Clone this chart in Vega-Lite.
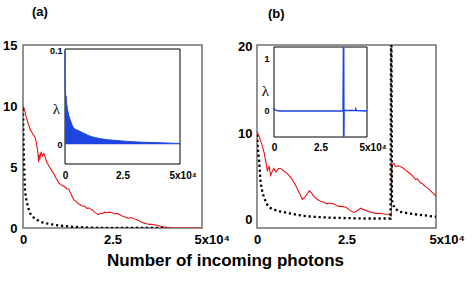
{
  "$schema": "https://vega.github.io/schema/vega-lite/v6.json",
  "padding": {"left": 1, "top": 5, "right": 2, "bottom": 2},
  "background": "white",
  "config": {
    "view": {"stroke": "#707070", "strokeWidth": 1.5},
    "axis": {"labelFont": "Liberation Sans", "labelFontWeight": "bold", "labelColor": "black", "grid": false},
    "title": {"font": "Liberation Sans", "fontWeight": "bold", "color": "black"}
  },
  "title": {"text": "Number of incoming photons", "orient": "bottom", "anchor": "middle", "fontSize": 17, "offset": 6, "dx": -8},
  "spacing": 5,
  "datasets": {
    "redA": [
      {"x": 0, "v": 10.0}, {"x": 300, "v": 9.8}, {"x": 600, "v": 9.5}, {"x": 900, "v": 9.1}, {"x": 1200, "v": 8.8},
      {"x": 1500, "v": 8.5}, {"x": 1800, "v": 8.3}, {"x": 2100, "v": 8.0}, {"x": 2400, "v": 7.9}, {"x": 2700, "v": 7.7},
      {"x": 3000, "v": 7.6}, {"x": 3400, "v": 7.4}, {"x": 3700, "v": 7.0}, {"x": 4000, "v": 6.5}, {"x": 4200, "v": 6.1},
      {"x": 4350, "v": 5.4}, {"x": 4500, "v": 6.0}, {"x": 4700, "v": 5.6}, {"x": 4900, "v": 6.1}, {"x": 5100, "v": 6.2},
      {"x": 5400, "v": 5.9}, {"x": 5800, "v": 6.1}, {"x": 6200, "v": 5.8}, {"x": 6600, "v": 5.4}, {"x": 7200, "v": 5.1},
      {"x": 7800, "v": 4.8}, {"x": 8500, "v": 4.5}, {"x": 9200, "v": 4.1}, {"x": 10000, "v": 3.7}, {"x": 10800, "v": 3.5},
      {"x": 11600, "v": 3.4}, {"x": 12300, "v": 3.2}, {"x": 12800, "v": 3.2}, {"x": 13200, "v": 2.9}, {"x": 13700, "v": 2.6},
      {"x": 14200, "v": 2.3}, {"x": 14800, "v": 2.2}, {"x": 15400, "v": 2.0}, {"x": 16000, "v": 1.9}, {"x": 16500, "v": 1.8},
      {"x": 17200, "v": 1.8}, {"x": 17800, "v": 1.6}, {"x": 18300, "v": 1.65}, {"x": 18800, "v": 1.55}, {"x": 19300, "v": 1.5},
      {"x": 19900, "v": 1.3}, {"x": 20500, "v": 1.2}, {"x": 21000, "v": 1.1}, {"x": 21600, "v": 1.2}, {"x": 22200, "v": 1.2},
      {"x": 22800, "v": 1.3}, {"x": 23500, "v": 1.25}, {"x": 24200, "v": 1.3}, {"x": 24900, "v": 1.25}, {"x": 25600, "v": 1.15},
      {"x": 26300, "v": 1.2}, {"x": 26800, "v": 1.15}, {"x": 27500, "v": 1.0}, {"x": 28200, "v": 0.95}, {"x": 28900, "v": 0.85},
      {"x": 29600, "v": 0.8}, {"x": 30300, "v": 0.85}, {"x": 31000, "v": 0.75}, {"x": 31700, "v": 0.7}, {"x": 32400, "v": 0.6},
      {"x": 33100, "v": 0.5}, {"x": 33800, "v": 0.4}, {"x": 34500, "v": 0.35}, {"x": 35300, "v": 0.3}, {"x": 36100, "v": 0.3},
      {"x": 36900, "v": 0.25}, {"x": 37700, "v": 0.2}, {"x": 38500, "v": 0.15}, {"x": 39300, "v": 0.1}, {"x": 40200, "v": 0.05},
      {"x": 41000, "v": 0.02}, {"x": 42000, "v": 0}, {"x": 50000, "v": 0}
    ],
    "blackA": [
      {"x": 0, "v": 9.8}, {"x": 100, "v": 8.0}, {"x": 200, "v": 6.5}, {"x": 300, "v": 5.4}, {"x": 400, "v": 4.4},
      {"x": 500, "v": 3.6}, {"x": 600, "v": 3.0}, {"x": 800, "v": 2.5}, {"x": 1100, "v": 2.1}, {"x": 1500, "v": 1.6},
      {"x": 2000, "v": 1.2}, {"x": 2500, "v": 1.0}, {"x": 3000, "v": 0.85}, {"x": 4000, "v": 0.65}, {"x": 5000, "v": 0.5},
      {"x": 6000, "v": 0.42}, {"x": 7000, "v": 0.35}, {"x": 8000, "v": 0.3}, {"x": 10000, "v": 0.2}, {"x": 12000, "v": 0.15},
      {"x": 14000, "v": 0.1}, {"x": 17000, "v": 0.05}, {"x": 20000, "v": 0.02}, {"x": 23000, "v": 0}, {"x": 40000, "v": 0}
    ],
    "blueA": [
      {"x": 0, "v": 0.1}, {"x": 60, "v": 0.06}, {"x": 150, "v": 0.055}, {"x": 300, "v": 0.05}, {"x": 450, "v": 0.052},
      {"x": 600, "v": 0.045}, {"x": 800, "v": 0.042}, {"x": 1000, "v": 0.038}, {"x": 1200, "v": 0.036}, {"x": 1400, "v": 0.034},
      {"x": 1600, "v": 0.031}, {"x": 1800, "v": 0.03}, {"x": 2000, "v": 0.028}, {"x": 2300, "v": 0.026}, {"x": 2600, "v": 0.024},
      {"x": 3000, "v": 0.021}, {"x": 3400, "v": 0.019}, {"x": 3700, "v": 0.018}, {"x": 4100, "v": 0.017}, {"x": 4500, "v": 0.016},
      {"x": 5000, "v": 0.0155}, {"x": 5500, "v": 0.015}, {"x": 6000, "v": 0.0145}, {"x": 6500, "v": 0.014}, {"x": 7200, "v": 0.013},
      {"x": 8000, "v": 0.012}, {"x": 9000, "v": 0.011}, {"x": 10000, "v": 0.0095}, {"x": 11000, "v": 0.0088}, {"x": 12000, "v": 0.008},
      {"x": 13000, "v": 0.0072}, {"x": 14000, "v": 0.0068}, {"x": 15500, "v": 0.006}, {"x": 17000, "v": 0.0055}, {"x": 18500, "v": 0.005},
      {"x": 20000, "v": 0.0046}, {"x": 22000, "v": 0.0042}, {"x": 24000, "v": 0.0038}, {"x": 26000, "v": 0.0034}, {"x": 28000, "v": 0.003},
      {"x": 30000, "v": 0.0027}, {"x": 32000, "v": 0.0025}, {"x": 34000, "v": 0.0023}, {"x": 36000, "v": 0.0021}, {"x": 38000, "v": 0.002},
      {"x": 40000, "v": 0.0018}, {"x": 42000, "v": 0.0016}, {"x": 44000, "v": 0.0015}, {"x": 46000, "v": 0.0013}, {"x": 48000, "v": 0.0011},
      {"x": 50000, "v": 0.001}
    ],
    "redB": [
      {"x": 0, "v": 10.2}, {"x": 700, "v": 9.5}, {"x": 1400, "v": 8.6}, {"x": 2000, "v": 7.7}, {"x": 2500, "v": 6.6},
      {"x": 2900, "v": 5.6}, {"x": 3400, "v": 6.2}, {"x": 3800, "v": 5.1}, {"x": 4300, "v": 5.6}, {"x": 4700, "v": 5.9},
      {"x": 5300, "v": 5.5}, {"x": 6000, "v": 5.9}, {"x": 6600, "v": 5.9}, {"x": 7500, "v": 5.6}, {"x": 8500, "v": 5.3},
      {"x": 9500, "v": 4.8}, {"x": 10300, "v": 4.3}, {"x": 11200, "v": 3.6}, {"x": 12000, "v": 2.9}, {"x": 12700, "v": 2.3},
      {"x": 13400, "v": 2.6}, {"x": 14100, "v": 3.0}, {"x": 14600, "v": 3.3}, {"x": 15200, "v": 3.1}, {"x": 15800, "v": 2.7},
      {"x": 16900, "v": 2.3}, {"x": 17800, "v": 2.1}, {"x": 18600, "v": 2.0}, {"x": 19500, "v": 1.8}, {"x": 20300, "v": 1.9},
      {"x": 21400, "v": 1.8}, {"x": 22200, "v": 1.6}, {"x": 22800, "v": 1.5}, {"x": 23800, "v": 1.5}, {"x": 24800, "v": 1.4},
      {"x": 25800, "v": 1.1}, {"x": 27000, "v": 0.8}, {"x": 28000, "v": 1.0}, {"x": 29000, "v": 1.3}, {"x": 30000, "v": 1.1},
      {"x": 31300, "v": 0.9}, {"x": 32300, "v": 0.8}, {"x": 33200, "v": 0.7}, {"x": 34500, "v": 0.7}, {"x": 35700, "v": 0.6},
      {"x": 36800, "v": 0.6}, {"x": 37500, "v": 0.4}, {"x": 37700, "v": 6.3}, {"x": 38200, "v": 6.5}, {"x": 38700, "v": 6.1},
      {"x": 39500, "v": 6.2}, {"x": 40600, "v": 6.0}, {"x": 41500, "v": 5.7}, {"x": 42500, "v": 5.4}, {"x": 43500, "v": 5.0},
      {"x": 44300, "v": 4.6}, {"x": 44800, "v": 4.7}, {"x": 45500, "v": 4.3}, {"x": 46300, "v": 4.1}, {"x": 47100, "v": 3.8},
      {"x": 48000, "v": 3.5}, {"x": 49000, "v": 3.1}, {"x": 50000, "v": 2.7}
    ],
    "blackB": [
      {"x": 0, "v": 9.8}, {"x": 200, "v": 8.5}, {"x": 400, "v": 7.5}, {"x": 600, "v": 6.8}, {"x": 800, "v": 5.5},
      {"x": 1000, "v": 4.3}, {"x": 1300, "v": 3.6}, {"x": 1600, "v": 3.0}, {"x": 2000, "v": 2.5}, {"x": 2500, "v": 2.0},
      {"x": 3000, "v": 1.6}, {"x": 3800, "v": 1.3}, {"x": 5000, "v": 1.1}, {"x": 6600, "v": 0.9}, {"x": 8500, "v": 0.75},
      {"x": 10300, "v": 0.6}, {"x": 13000, "v": 0.4}, {"x": 16000, "v": 0.3}, {"x": 20000, "v": 0.2}, {"x": 25000, "v": 0.15},
      {"x": 30000, "v": 0.1}, {"x": 37300, "v": 0.1}, {"x": 37450, "v": 21}, {"x": 37550, "v": 21}, {"x": 37700, "v": 2.2},
      {"x": 38300, "v": 1.4}, {"x": 39600, "v": 0.9}, {"x": 41000, "v": 0.8}, {"x": 42400, "v": 0.7}, {"x": 44000, "v": 0.6},
      {"x": 46000, "v": 0.5}, {"x": 48000, "v": 0.4}, {"x": 50000, "v": 0.3}
    ],
    "blueB": [
      {"x": 0, "v": 0.06}, {"x": 150, "v": 0.03}, {"x": 500, "v": 0.02}, {"x": 1500, "v": 0.01}, {"x": 3000, "v": 0.0},
      {"x": 36800, "v": 0.0}, {"x": 37100, "v": 0.01}, {"x": 37300, "v": 1.23}, {"x": 37400, "v": -0.5}, {"x": 37500, "v": 1.23},
      {"x": 37600, "v": -0.5}, {"x": 37700, "v": 0.02}, {"x": 38500, "v": 0.01}, {"x": 43800, "v": 0.01}, {"x": 44000, "v": 0.04},
      {"x": 44300, "v": 0.01}, {"x": 50000, "v": 0.0}
    ]
  },
  "hconcat": [
    {
      "width": 179,
      "height": 183,
      "title": {"text": "(a)", "anchor": "start", "frame": "group", "dx": 9, "fontSize": 13, "offset": 20},
      "layer": [
        {
          "encoding": {
            "x": {"field": "x", "type": "quantitative", "scale": {"domain": [0, 50000], "nice": false, "zero": false},
              "axis": {"values": [0, 25000, 50000], "labelExpr": "datum.value == 0 ? '0' : datum.value == 25000 ? '2.5' : '5x10⁴'",
                "title": null, "ticks": false, "domain": false, "labelFontSize": 13, "labelPadding": 5, "labelFlush": false,
                "labelAlign": {"condition": {"test": "datum.value == 50000", "value": "left"}, "value": "center"},
                "labelOffset": {"condition": {"test": "datum.value == 50000", "value": -8}, "value": 0}}},
            "y": {"field": "v", "type": "quantitative", "scale": {"domain": [0, 15], "nice": false, "zero": false},
              "axis": {"values": [0, 5, 10, 15], "title": null, "ticks": false, "domain": false, "labelFontSize": 13, "labelPadding": 6}}
          },
          "layer": [
            {"data": {"name": "redA"}, "mark": {"type": "line", "color": "#e8141a", "strokeWidth": 1.1, "clip": true}},
            {"data": {"name": "blackA"}, "mark": {"type": "line", "color": "black", "strokeWidth": 2.3, "strokeDash": [2.2, 2.8], "clip": true}}
          ]
        },
        {
          "encoding": {
            "x": {"field": "x", "type": "quantitative", "scale": {"domain": [0, 50000], "range": [42, 157], "nice": false, "zero": false},
              "axis": {"orient": "bottom", "offset": -64, "values": [0, 25000, 50000],
                "labelExpr": "datum.value == 0 ? '0' : datum.value == 25000 ? '2.5' : '5x10⁴'",
                "title": null, "ticks": false, "domain": false, "labelFontSize": 10, "labelPadding": 6, "labelFlush": false,
                "labelAlign": {"condition": {"test": "datum.value == 50000", "value": "left"}, "value": "center"},
                "labelOffset": {"condition": {"test": "datum.value == 50000", "value": -11}, "value": 0}}},
            "y": {"field": "v", "type": "quantitative", "scale": {"domain": [-0.021, 0.102], "range": [119, 4], "nice": false, "zero": false},
              "axis": {"orient": "left", "offset": -42, "values": [0, 0.1], "labelExpr": "datum.value == 0 ? '0' : '0.1'",
                "ticks": false, "domain": false, "labelFontSize": 9, "labelPadding": 3,
                "title": "λ", "titleAngle": 0, "titleFont": "Liberation Serif", "titleFontWeight": "normal", "titleFontSize": 15,
                "titleX": -9, "titleY": 63, "titleAlign": "center", "titleBaseline": "middle"}}
          },
          "layer": [
            {"data": {"values": [{"x": 0, "x2": 50000, "v": -0.021, "v2": 0.102}]},
              "mark": {"type": "rect", "fill": "white", "stroke": "black", "strokeWidth": 1},
              "encoding": {"x2": {"field": "x2"}, "y2": {"field": "v2"}}},
            {"data": {"name": "blueA"}, "mark": {"type": "area", "color": "#1f45e0", "opacity": 1, "fillOpacity": 1, "line": {"color": "#1f45e0", "strokeWidth": 1}}}
          ]
        }
      ],
      "resolve": {"scale": {"x": "independent", "y": "independent"}, "axis": {"x": "independent", "y": "independent"}}
    },
    {
      "width": 179,
      "height": 183,
      "title": {"text": "(b)", "anchor": "start", "frame": "group", "dx": 11, "fontSize": 13, "offset": 20},
      "layer": [
        {
          "encoding": {
            "x": {"field": "x", "type": "quantitative", "scale": {"domain": [0, 50000], "nice": false, "zero": false},
              "axis": {"values": [0, 25000, 50000], "labelExpr": "datum.value == 0 ? '0' : datum.value == 25000 ? '2.5' : '5x10⁴'",
                "title": null, "ticks": false, "domain": false, "labelFontSize": 13, "labelPadding": 5, "labelFlush": false,
                "labelAlign": {"condition": {"test": "datum.value == 50000", "value": "left"}, "value": "center"},
                "labelOffset": {"condition": {"test": "datum.value == 50000", "value": -7}, "value": 0}}},
            "y": {"field": "v", "type": "quantitative", "scale": {"domain": [-1, 20.2], "nice": false, "zero": false},
              "axis": {"values": [0, 10, 20], "title": null, "ticks": false, "domain": false, "labelFontSize": 13, "labelPadding": 5}}
          },
          "layer": [
            {"data": {"name": "redB"}, "mark": {"type": "line", "color": "#e8141a", "strokeWidth": 1.1, "clip": true}},
            {"data": {"name": "blackB"}, "mark": {"type": "line", "color": "black", "strokeWidth": 2.3, "strokeDash": [2.2, 2.8], "clip": true}}
          ]
        },
        {
          "encoding": {
            "x": {"field": "x", "type": "quantitative", "scale": {"domain": [0, 50000], "range": [17, 110], "nice": false, "zero": false},
              "axis": {"orient": "bottom", "offset": -91, "values": [0, 25000, 50000],
                "labelExpr": "datum.value == 0 ? '0' : datum.value == 25000 ? '2.5' : '5x10⁴'",
                "title": null, "ticks": false, "domain": false, "labelFontSize": 10, "labelPadding": 5, "labelFlush": false,
                "labelAlign": {"condition": {"test": "datum.value == 50000", "value": "left"}, "value": "center"},
                "labelOffset": {"condition": {"test": "datum.value == 50000", "value": -8}, "value": 0}}},
            "y": {"field": "v", "type": "quantitative", "scale": {"domain": [-0.5, 1.23], "range": [92, 2], "nice": false, "zero": false},
              "axis": {"orient": "left", "offset": -17, "values": [0, 1], "ticks": false, "domain": false, "labelFontSize": 9, "labelPadding": 5,
                "title": "λ", "titleAngle": 0, "titleFont": "Liberation Serif", "titleFontWeight": "normal", "titleFontSize": 15,
                "titleX": -9, "titleY": 45, "titleAlign": "center", "titleBaseline": "middle"}}
          },
          "layer": [
            {"data": {"values": [{"x": 0, "x2": 50000, "v": -0.5, "v2": 1.23}]},
              "mark": {"type": "rect", "fill": "white", "stroke": "black", "strokeWidth": 1},
              "encoding": {"x2": {"field": "x2"}, "y2": {"field": "v2"}}},
            {"data": {"name": "blueB"}, "mark": {"type": "line", "color": "#1f45e0", "strokeWidth": 1.4}}
          ]
        }
      ],
      "resolve": {"scale": {"x": "independent", "y": "independent"}, "axis": {"x": "independent", "y": "independent"}}
    }
  ]
}
